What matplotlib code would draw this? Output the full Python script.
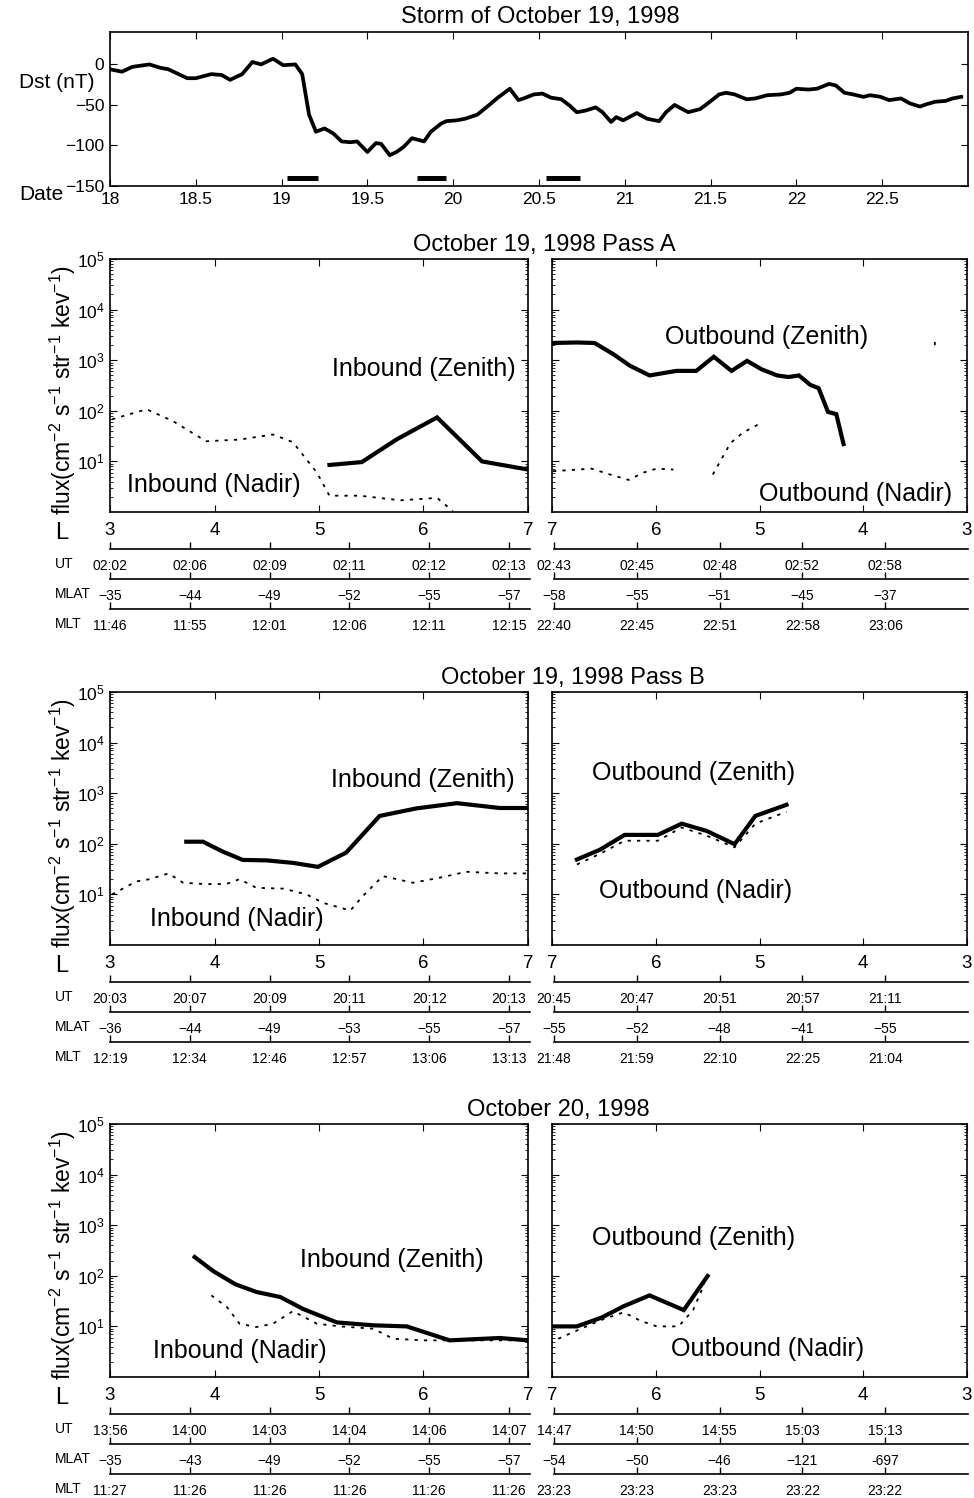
import numpy as np
import matplotlib
matplotlib.use("Agg")
import matplotlib.pyplot as plt
from matplotlib import font_manager
from matplotlib.ticker import LogLocator, NullFormatter, FuncFormatter

W, H = 974, 1498

# ---- Dst index, October 18-23 1998 ----
dst_day = [18.0, 18.07, 18.13, 18.23, 18.29, 18.34, 18.45, 18.5, 18.59, 18.65, 18.70, 18.77,
           18.83, 18.88, 18.95, 19.01, 19.08, 19.12, 19.16, 19.2, 19.25, 19.30, 19.35, 19.40,
           19.44, 19.5, 19.55, 19.58, 19.63, 19.67, 19.71, 19.76, 19.83, 19.87, 19.93, 19.96,
           20.02, 20.07, 20.14, 20.21, 20.26, 20.33, 20.38, 20.41, 20.47, 20.52, 20.57, 20.63,
           20.68, 20.72, 20.77, 20.83, 20.87, 20.92, 20.95, 20.99, 21.07, 21.13, 21.20, 21.24,
           21.29, 21.37, 21.44, 21.49, 21.55, 21.59, 21.64, 21.71, 21.76, 21.83, 21.91, 21.96,
           22.00, 22.07, 22.12, 22.19, 22.23, 22.28, 22.33, 22.39, 22.43, 22.49, 22.54, 22.61,
           22.66, 22.72, 22.76, 22.81, 22.87, 22.91, 22.96]
dst_nt = [-6, -9, -3, 0, -4, -6, -17, -17, -12, -13, -19, -12,
          3, 0, 7, -1, 0, -12, -62, -83, -79, -85, -95, -96,
          -95, -108, -97, -98, -112, -108, -102, -91, -95, -83, -73, -70,
          -69, -67, -62, -50, -41, -30, -44, -42, -37, -36, -41, -43,
          -51, -59, -57, -53, -59, -71, -65, -69, -60, -67, -70, -59,
          -50, -59, -55, -47, -37, -35, -37, -43, -42, -38, -37, -35,
          -30, -31, -30, -24, -26, -35, -37, -40, -38, -40, -44, -42,
          -48, -52, -49, -46, -45, -42, -40]
pass_start = [19.03, 19.79, 20.54]
pass_end = [19.21, 19.96, 20.74]
pass_level = [-140, -140, -140]

# ---- Pass A ----
a_in_zen_L = [5.10, 5.41, 5.74, 6.13, 6.56, 7.0]
a_in_zen = [8.5, 9.7, 27, 74, 10, 6.9]
a_in_nad_L = [3.02, 3.35, 3.6, 3.92, 4.24, 4.56, 4.75, 4.98, 5.10, 5.39, 5.78, 6.13, 6.28]
a_in_nad = [68, 107, 63, 25, 27, 34, 24, 6.0, 2.1, 2.1, 1.7, 1.9, 1.05]
a_out_zen_L = [7.0, 6.76, 6.59, 6.41, 6.25, 6.06, 5.80, 5.61, 5.44, 5.27, 5.12, 4.98,
               4.83, 4.72, 4.62, 4.51, 4.43, 4.34, 4.26, 4.19]
a_out_zen = [2190, 2240, 2190, 1320, 780, 500, 615, 615, 1170, 615, 970, 660,
             500, 465, 500, 325, 280, 95, 86, 22]
a_out_nad_L = [6.99, 6.62, 6.44, 6.26, 6.12, 5.99, 5.83, np.nan, 5.45, 5.28, 5.16, 5.01,
               np.nan, 3.31, 3.31]
a_out_nad = [6.4, 7.2, 5.5, 4.3, 6.0, 7.2, 6.9, np.nan, 5.5, 23, 37, 54, np.nan, 2300, 1650]

a_ut_in = ["02:02", "02:06", "02:09", "02:11", "02:12", "02:13"]
a_mlat_in = ["\u221235", "\u221244", "\u221249", "\u221252", "\u221255", "\u221257"]
a_mlt_in = ["11:46", "11:55", "12:01", "12:06", "12:11", "12:15"]
a_ut_out = ["02:43", "02:45", "02:48", "02:52", "02:58"]
a_mlat_out = ["\u221258", "\u221255", "\u221251", "\u221245", "\u221237"]
a_mlt_out = ["22:40", "22:45", "22:51", "22:58", "23:06"]

# ---- Pass B ----
b_in_zen_L = [3.73, 3.89, 4.08, 4.27, 4.50, 4.75, 4.99, 5.26, 5.58, 5.93, 6.32, 6.73, 7.0]
b_in_zen = [110, 110, 70, 48, 47, 42, 35, 67, 355, 500, 635, 510, 510]
b_in_nad_L = [3.02, 3.25, 3.38, 3.56, 3.70, 3.92, 4.11, 4.24, 4.40, 4.66, 4.88, 5.04, 5.30,
              5.42, 5.61, 5.90, 6.16, 6.41, 6.73, 7.0]
b_in_nad = [10, 18, 20, 26, 17, 16, 16, 20, 13.5, 13, 10, 6.8, 4.8,
            9.3, 23, 17, 21.5, 28, 26, 26]
b_out_zen_L = [6.76, 6.54, 6.30, 5.98, 5.75, 5.51, 5.24, 5.04, 4.74]
b_out_zen = [49, 76, 150, 150, 250, 180, 98, 355, 590]
b_out_nad_L = [6.76, 6.54, 6.30, 5.98, 5.75, 5.51, 5.24, 5.04, 4.74]
b_out_nad = [39, 63, 115, 115, 210, 145, 85, 250, 430]

b_ut_in = ["20:03", "20:07", "20:09", "20:11", "20:12", "20:13"]
b_mlat_in = ["\u221236", "\u221244", "\u221249", "\u221253", "\u221255", "\u221257"]
b_mlt_in = ["12:19", "12:34", "12:46", "12:57", "13:06", "13:13"]
b_ut_out = ["20:45", "20:47", "20:51", "20:57", "21:11"]
b_mlat_out = ["\u221255", "\u221252", "\u221248", "\u221241", "\u221255"]
b_mlt_out = ["21:48", "21:59", "22:10", "22:25", "21:04"]

# ---- October 20 ----
c_in_zen_L = [3.81, 3.99, 4.20, 4.40, 4.63, 4.85, 5.17, 5.52, 5.84, 6.25, 6.73, 7.0]
c_in_zen = [235, 123, 68, 48, 38, 22, 12, 10.5, 10, 5.3, 5.9, 5.3]
c_in_nad_L = [3.97, 4.12, 4.24, 4.40, 4.56, 4.75, 4.98, 5.20, 5.52, 5.71, 6.0, 6.44, 7.0]
c_in_nad = [41, 24, 11.3, 9.7, 11.3, 20, 11.3, 10, 9, 5.7, 5.3, 5.3, 5.3]
c_out_zen_L = [7.0, 6.76, 6.52, 6.31, 6.06, 5.73, 5.50]
c_out_zen = [10, 10, 15, 25, 41, 21, 99]
c_out_nad_L = [6.94, 6.76, 6.52, 6.31, 6.15, 5.99, 5.78, 5.64, 5.53]
c_out_nad = [5.7, 8.3, 13.5, 19, 13, 10, 10, 21, 70]

c_ut_in = ["13:56", "14:00", "14:03", "14:04", "14:06", "14:07"]
c_mlat_in = ["\u221235", "\u221243", "\u221249", "\u221252", "\u221255", "\u221257"]
c_mlt_in = ["11:27", "11:26", "11:26", "11:26", "11:26", "11:26"]
c_ut_out = ["14:47", "14:50", "14:55", "15:03", "15:13"]
c_mlat_out = ["\u221254", "\u221250", "\u221246", "\u2212121", "-697"]
c_mlt_out = ["23:23", "23:23", "23:23", "23:22", "23:22"]


def pick(name, fallback):
    try:
        font_manager.findfont(name, fallback_to_default=False)
        return name
    except ValueError:
        return fallback


SANS = pick("Liberation Sans", "DejaVu Sans")
NARROW = pick("Liberation Sans Narrow", SANS)
# the narrow face is often missing: then shrink the tick labels a bit instead
TICK = 13.5 if NARROW != SANS else 12
ROW = 10.5 if NARROW != SANS else 10

plt.rcParams["font.family"] = [SANS, "DejaVu Sans"]
plt.rcParams["mathtext.fontset"] = "custom"
plt.rcParams["mathtext.rm"] = SANS
plt.rcParams["mathtext.it"] = SANS + ":italic"
plt.rcParams["mathtext.bf"] = SANS + ":bold"

fig = plt.figure(figsize=(W / 100, H / 100), dpi=100)


def box(left, top, right, bottom):
    # pixel box -> figure fraction
    return [left / W, 1 - bottom / H, (right - left) / W, (bottom - top) / H]


def ftext(x, y, s, **kw):
    fig.text(x / W, 1 - y / H, s, **kw)


# ---------------- Dst panel ----------------
ax = fig.add_axes(box(110, 32, 968, 186))
ax.plot(dst_day, dst_nt, color="k", lw=2.7, solid_joinstyle="round")
ax.hlines(pass_level, pass_start, pass_end, color="k", lw=3.6)
ax.set_xlim(18, 23)
ax.set_ylim(-150, 40)
ax.set_xticks(np.arange(18, 23, 0.5))
ax.set_xticklabels(["%g" % v for v in np.arange(18, 23, 0.5)])
ax.set_yticks([-150, -100, -50, 0])
ax.tick_params(direction="in", top=True, right=True, length=5, labelsize=TICK + 0.5, pad=4)
for lab in ax.get_xticklabels() + ax.get_yticklabels():
    lab.set_family(NARROW)
for s in ax.spines.values():
    s.set_linewidth(1.2)
ftext(540, 17, "Storm of October 19, 1998", ha="center", va="center", fontsize=17)
ftext(57, 82, "Dst (nT)", ha="center", va="center", fontsize=15)
ftext(41, 195, "Date", ha="center", va="center", fontsize=15)

zen_kw = dict(color="k", lw=3.0, solid_joinstyle="miter")
nad_kw = dict(color="k", lw=1.3, linestyle=(0, (1.8, 3.4)))


def log_label(v, pos):
    return r"$10^{%d}$" % int(round(np.log10(v)))


def flux_axes(left, right, top, bottom, reverse, first):
    ax = fig.add_axes(box(left, top, right, bottom))
    ax.set_yscale("log")
    ax.set_ylim(1, 1e5)
    if reverse:
        ax.set_xlim(7, 3)
    else:
        ax.set_xlim(3, 7)
    ax.set_xticks([3, 4, 5, 6, 7])
    ax.set_xticklabels(["3", "4", "5", "6", "7"])
    ax.set_yticks([1e1, 1e2, 1e3, 1e4, 1e5])
    ax.yaxis.set_minor_locator(LogLocator(base=10, subs=np.arange(2, 10), numticks=20))
    ax.yaxis.set_minor_formatter(NullFormatter())
    if first:
        ax.yaxis.set_major_formatter(FuncFormatter(log_label))
    else:
        ax.set_yticklabels([])
    ax.tick_params(which="both", direction="in", top=True, right=True)
    ax.tick_params(which="major", length=5, pad=4)
    ax.tick_params(axis="y", labelsize=12.5)
    ax.tick_params(axis="x", pad=7, labelsize=TICK + 1.5)
    ax.tick_params(which="minor", length=2.5)
    for lab in ax.get_xticklabels():
        lab.set_family(NARROW)
    for s in ax.spines.values():
        s.set_linewidth(1.2)
    return ax


def table_row(left, right, y, labels, step):
    t = fig.add_axes(box(left, y - 2, right, y))
    t.set_xlim(0, 1)
    t.set_ylim(0, 1)
    for s in ["top", "left", "right"]:
        t.spines[s].set_visible(False)
    t.spines["bottom"].set_linewidth(1.2)
    t.set_yticks([])
    t.set_xticks(np.arange(len(labels)) * step)
    t.set_xticklabels(labels, fontsize=ROW, family=NARROW)
    t.tick_params(axis="x", direction="in", length=5, width=1, pad=7)
    t.patch.set_visible(False)


def draw_pass(top, title, title_x, left_curves, right_curves, notes, rows):
    bottom = top + 253
    axl = flux_axes(110, 528, top, bottom, False, True)
    axr = flux_axes(552, 967, top, bottom, True, False)
    axl.plot(left_curves[0], left_curves[1], **zen_kw)
    axl.plot(left_curves[2], left_curves[3], **nad_kw)
    axr.plot(right_curves[0], right_curves[1], **zen_kw)
    axr.plot(right_curves[2], right_curves[3], **nad_kw)
    for a, (x, y, s) in zip([axl, axl, axr, axr], notes):
        a.text(x, y, s, ha="center", va="center", fontsize=18)
    ftext(title_x, top - 14, title, ha="center", va="center", fontsize=17)
    ftext(63, (top + bottom) / 2 + 5,
          r"flux(cm$^{-2}$ s$^{-1}$ str$^{-1}$ kev$^{-1}$)",
          ha="center", va="center", rotation=90, fontsize=16.5)
    ftext(62, bottom + 21, "L", ha="center", va="center", fontsize=17)
    names = ["UT", "MLAT", "MLT"]
    for k in range(3):
        y = bottom + 37 + 30 * k
        table_row(110, 530, y, rows[k], 0.19)
        table_row(554, 968, y, rows[k + 3], 0.2)
        ftext(55, y + 15, names[k], ha="left", va="center", fontsize=ROW, family=NARROW)


draw_pass(259, "October 19, 1998 Pass A", 544,
          [a_in_zen_L, a_in_zen, a_in_nad_L, a_in_nad],
          [a_out_zen_L, a_out_zen, a_out_nad_L, a_out_nad],
          [(6.0, 10 ** 2.82, "Inbound (Zenith)"), (3.99, 10 ** 0.54, "Inbound (Nadir)"),
           (4.93, 10 ** 3.46, "Outbound (Zenith)"), (4.07, 10 ** 0.35, "Outbound (Nadir)")],
          [a_ut_in, a_mlat_in, a_mlt_in, a_ut_out, a_mlat_out, a_mlt_out])

draw_pass(692, "October 19, 1998 Pass B", 573,
          [b_in_zen_L, b_in_zen, b_in_nad_L, b_in_nad],
          [b_out_zen_L, b_out_zen, b_out_nad_L, b_out_nad],
          [(5.99, 10 ** 3.27, "Inbound (Zenith)"), (4.21, 10 ** 0.51, "Inbound (Nadir)"),
           (5.64, 10 ** 3.39, "Outbound (Zenith)"), (5.62, 10 ** 1.07, "Outbound (Nadir)")],
          [b_ut_in, b_mlat_in, b_mlt_in, b_ut_out, b_mlat_out, b_mlt_out])

draw_pass(1124, "October 20, 1998", 558,
          [c_in_zen_L, c_in_zen, c_in_nad_L, c_in_nad],
          [c_out_zen_L, c_out_zen, c_out_nad_L, c_out_nad],
          [(5.70, 10 ** 2.31, "Inbound (Zenith)"), (4.24, 10 ** 0.52, "Inbound (Nadir)"),
           (5.64, 10 ** 2.74, "Outbound (Zenith)"), (4.92, 10 ** 0.56, "Outbound (Nadir)")],
          [c_ut_in, c_mlat_in, c_mlt_in, c_ut_out, c_mlat_out, c_mlt_out])

fig.savefig("out.png", dpi=100)
